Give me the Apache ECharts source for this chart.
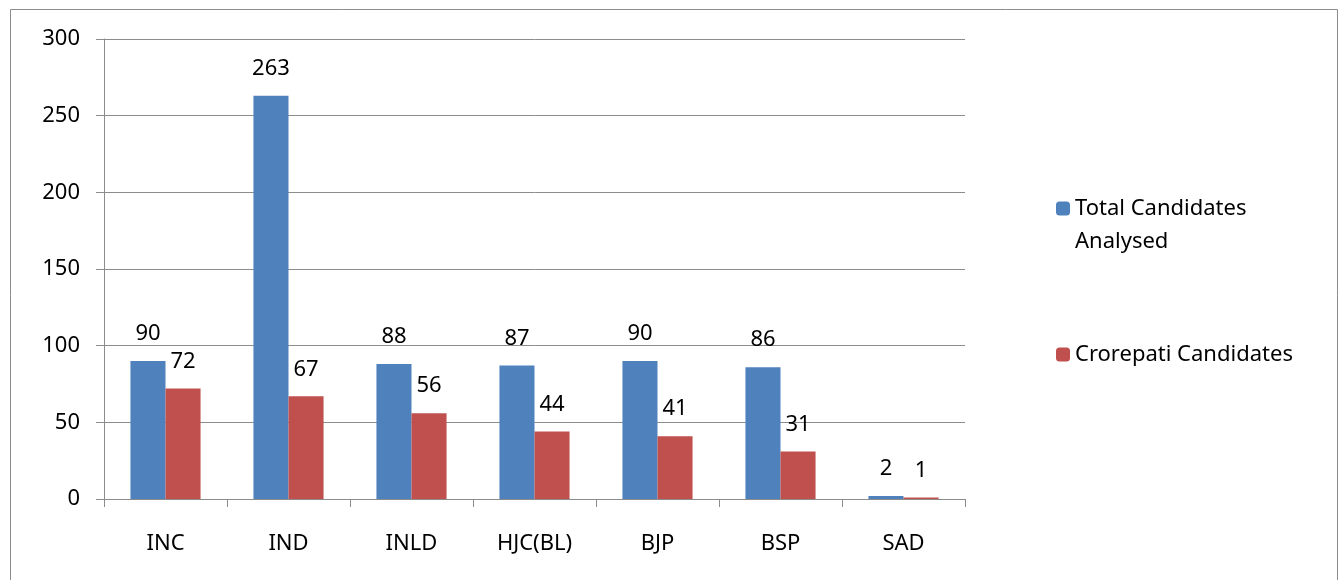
<!DOCTYPE html>
<html><head><meta charset="utf-8">
<script src="https://cdn.jsdelivr.net/npm/echarts@6/dist/echarts.min.js"></script>
<style>html,body{margin:0;padding:0;background:#fff}#c{width:1343px;height:580px}</style>
</head><body><div id="c"></div>
<script>
const categories = ['INC','IND','INLD','HJC(BL)','BJP','BSP','SAD'];
const totalAnalysed = [90,263,88,87,90,86,2];
const crorepati = [72,67,56,44,41,31,1];
const seriesNames = ['Total Candidates Analysed','Crorepati Candidates'];
const yTicks = {min:0, max:300, interval:50};

const FONT = 'Noto Sans';
const chart = echarts.init(document.getElementById('c'));
const lbl = {show:true, position:'top', distance:16, color:'#000', fontSize:22, fontFamily:FONT};
chart.setOption({
  animation:false,
  graphic:[{type:'rect', shape:{x:10.5,y:9.5,width:1327,height:600}, style:{fill:'none', stroke:'#8c8c8c', lineWidth:1}}],
  grid:{left:104, right:378, top:39, bottom:81},
  legend:[
    {data:[seriesNames[0]], orient:'vertical', left:1056, top:159, padding:0, itemWidth:14, itemHeight:14,
     formatter:()=> '\nTotal Candidates\nAnalysed',
     textStyle:{fontSize:22, fontFamily:FONT, color:'#000', lineHeight:33}},
    {data:[seriesNames[1]], orient:'vertical', left:1056, top:338, padding:0, itemWidth:14, itemHeight:14,
     textStyle:{fontSize:22, fontFamily:FONT, color:'#000', lineHeight:33}}
  ],
  xAxis:{type:'category', data:categories,
    axisLine:{lineStyle:{color:'#8c8c8c'}},
    axisTick:{show:true, length:8, lineStyle:{color:'#8c8c8c'}},
    axisLabel:{color:'#000', fontSize:22, fontFamily:FONT, margin:34}},
  yAxis:{type:'value', min:yTicks.min, max:yTicks.max, interval:yTicks.interval,
    axisLine:{show:true, lineStyle:{color:'#8c8c8c'}},
    axisTick:{show:true, length:8, lineStyle:{color:'#8c8c8c'}},
    splitLine:{lineStyle:{color:'#8c8c8c'}},
    axisLabel:{color:'#000', fontSize:22, fontFamily:FONT, margin:24}},
  series:[
    {name:seriesNames[0], type:'bar', data:totalAnalysed, itemStyle:{color:'#4F81BD'}, barGap:'0%', barCategoryGap:'43%', label:lbl},
    {name:seriesNames[1], type:'bar', data:crorepati, itemStyle:{color:'#C0504D'}, label:lbl}
  ]
});
</script></body></html>
